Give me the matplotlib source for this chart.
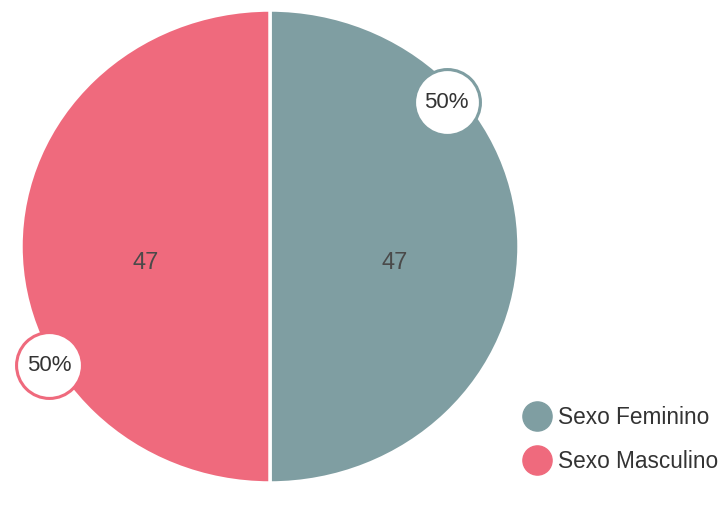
import matplotlib.pyplot as plt
from matplotlib.lines import Line2D

plt.rcParams['font.family'] = ['Liberation Sans', 'DejaVu Sans']

categorias = ['Sexo Feminino', 'Sexo Masculino']
valores = [47, 47]
percentuais = ['50%', '50%']
cores = ['#7f9ea2', '#ef6a7d']

W, H = 722, 509
fig = plt.figure(figsize=(W / 100, H / 100), dpi=100)
# pie box in pixels: x 22..518, y 10..483
ax = fig.add_axes([21 / W, 1 - 483 / H, 498 / W, 473 / H])

wedges, textos, autotextos = ax.pie(
    valores, colors=cores, startangle=90, counterclock=False,
    autopct=lambda p: '%d' % round(p * sum(valores) / 100), pctdistance=0.5,
    wedgeprops=dict(edgecolor='white', linewidth=2.5),
    textprops=dict(fontsize=17, color='#4a4a4a'))
ax.set_aspect('auto')
ax.set_xlim(-1, 1)
ax.set_ylim(-1, 1)
for t in autotextos:
    x, y = t.get_position()
    t.set_position((x, y - 0.07))

# bolhas de percentual
pos_bolhas = [(0.71, 0.61), (-0.887, -0.503)]
for (bx, by), pct, cor in zip(pos_bolhas, percentuais, cores):
    ax.scatter([bx], [by], s=2250, facecolor='white', edgecolor=cor,
               linewidth=2.2, zorder=5, clip_on=False)
    ax.text(bx, by, pct, ha='center', va='center', fontsize=16,
            color='#333333', zorder=6)

handles = [Line2D([], [], marker='o', linestyle='', markersize=21,
                  markerfacecolor=c, markeredgecolor=c) for c in cores]
fig.legend(handles, categorias, loc='center left',
           bbox_to_anchor=(526 / W, 1 - 439.5 / H), frameon=False,
           fontsize=16.3, borderpad=0, borderaxespad=0, handlelength=1.0,
           handletextpad=0.4, labelspacing=0.95, labelcolor='#333333')

fig.savefig('out.png', dpi=100)
